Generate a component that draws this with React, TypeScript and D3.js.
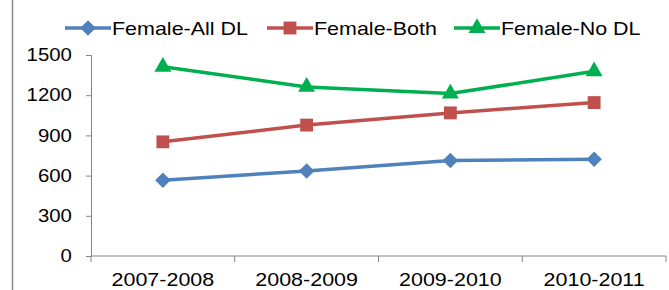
import * as d3 from 'd3';
import {useEffect, useRef} from 'react';

const categories = ['2007-2008', '2008-2009', '2009-2010', '2010-2011'];
const allDL = [565, 635, 712, 722];
const both = [852, 977, 1068, 1145];
const noDL = [1412, 1262, 1212, 1378];
const yTicks = [0, 300, 600, 900, 1200, 1500];

// diamond = square rotated 45deg, like Excel markers
const series = [
    {name: 'Female-All DL', values: allDL, color: '#4F81BD', symbol: d3.symbolSquare, size: 120, rotate: 45},
    {name: 'Female-Both', values: both, color: '#C0504D', symbol: d3.symbolSquare, size: 165, rotate: 0},
    {name: 'Female-No DL', values: noDL, color: '#00B050', symbol: d3.symbolTriangle, size: 125, rotate: 0},
];

const FONT = 'Liberation Sans, Arial, sans-serif';
const STRETCH = 'scale(1.13,1)';

export default function App() {
    const ref = useRef(null);
    const width = 669;
    const height = 290;
    const margins = {top: 55, right: 3, bottom: 34, left: 91};

    useEffect(() => {
        const svg = d3.select(ref.current);
        svg.selectAll('*').remove();
        svg.style('position', 'absolute').style('left', 0).style('top', 0).style('font-family', FONT);

        const x = d3
            .scaleBand<string>()
            .domain(categories)
            .range([margins.left, width - margins.right]);
        const y = d3
            .scaleLinear<number>()
            .domain([0, 1500])
            .range([height - margins.bottom, margins.top]);

        // left frame line
        svg.append('line')
            .attr('x1', 12.5).attr('x2', 12.5).attr('y1', 0).attr('y2', height)
            .attr('stroke', '#888').attr('stroke-width', 1.5);

        const yAxis = d3.axisLeft(y).tickValues(yTicks).tickFormat(d3.format('d')).tickSize(5).tickPadding(12);
        const gy = svg.append('g').attr('transform', `translate(${margins.left},0)`).call(yAxis);
        const xAxis = d3.axisBottom(x).tickSize(0).tickPadding(17);
        const gx = svg.append('g').attr('transform', `translate(0,${height - margins.bottom})`).call(xAxis);

        [gy, gx].forEach((g) => {
            g.selectAll('path,line').attr('stroke', '#868686');
            g.selectAll('text').attr('fill', '#000').attr('font-family', FONT).attr('transform', STRETCH);
        });
        gy.selectAll('text').attr('font-size', 18);
        gx.selectAll('text').attr('font-size', 19);
        gx.select('.domain').attr('d', `M${margins.left},0H${width - margins.right}`);
        // category boundary ticks
        const bounds = [...categories.map((c) => x(c)!), x.range()[1]];
        gx.selectAll('.bound')
            .data(bounds)
            .join('line')
            .attr('x1', (d) => d).attr('x2', (d) => d).attr('y1', 0).attr('y2', 6)
            .attr('stroke', '#868686');

        const cx = (c: string) => x(c)! + x.bandwidth() / 2;
        const line = d3
            .line<number>()
            .x((_, i) => cx(categories[i]))
            .y((d) => y(d));

        series.forEach((s) => {
            svg.append('path')
                .attr('d', line(s.values))
                .attr('fill', 'none')
                .attr('stroke', s.color)
                .attr('stroke-width', 3.5);
            svg.selectAll(null)
                .data(s.values)
                .join('path')
                .attr('transform', (d, i) => `translate(${cx(categories[i])},${y(d)}) rotate(${s.rotate})`)
                .attr('d', d3.symbol(s.symbol, s.size)())
                .attr('fill', s.color);
        });

        // legend
        const legendX = [65, 267, 454];
        series.forEach((s, i) => {
            const g = svg.append('g').attr('transform', `translate(${legendX[i]},28)`);
            g.append('line').attr('x1', 0).attr('x2', 46).attr('stroke', s.color).attr('stroke-width', 3.5);
            g.append('path')
                .attr('transform', `translate(23,0) rotate(${s.rotate})`)
                .attr('d', d3.symbol(s.symbol, s.size)())
                .attr('fill', s.color);
            g.append('text')
                .attr('transform', `translate(47,7) ${STRETCH}`)
                .attr('font-size', 19)
                .attr('fill', '#000')
                .text(s.name);
        });
    }, []);

    return <svg ref={ref} width={width} height={height}></svg>;
}
